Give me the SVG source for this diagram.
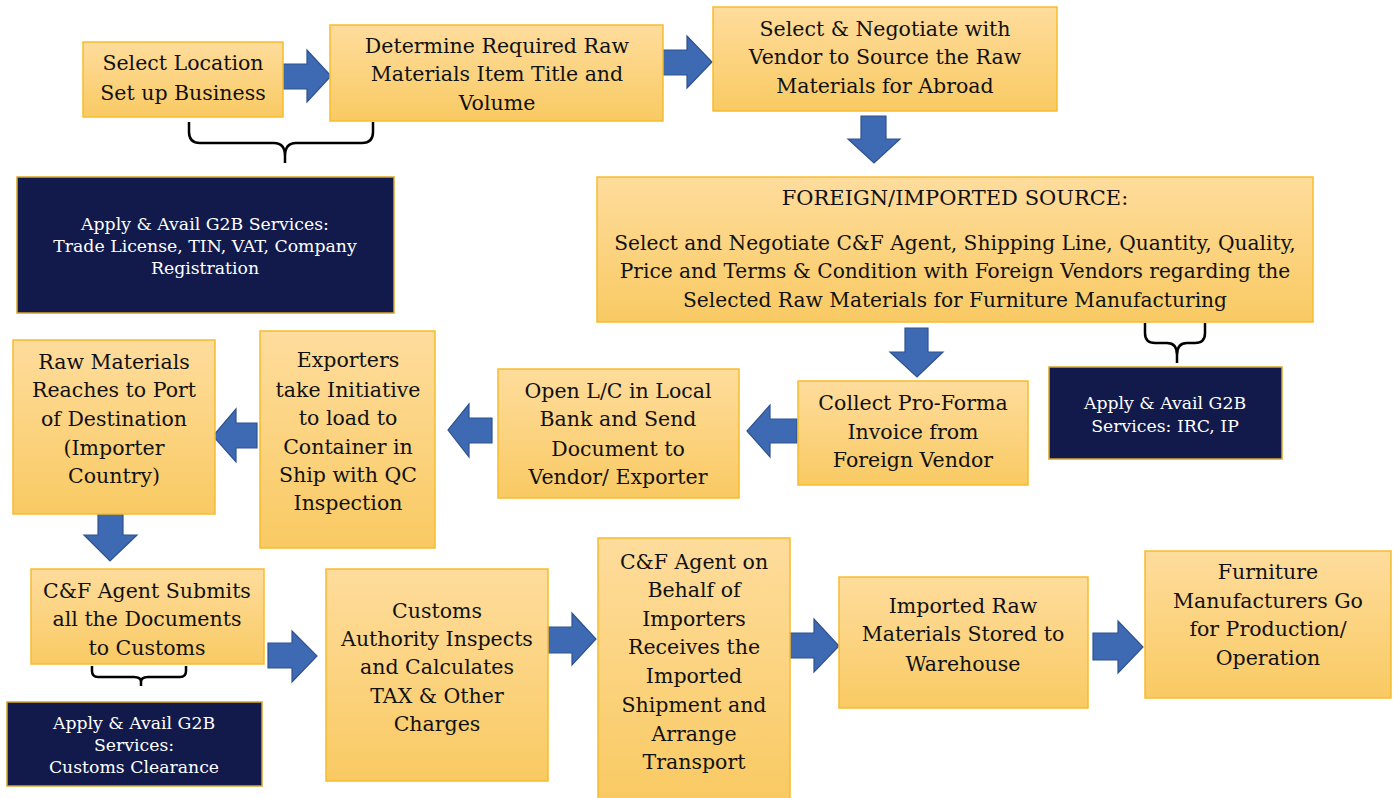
<svg xmlns="http://www.w3.org/2000/svg" width="1399" height="798" viewBox="0 0 1399 798">
<defs>
<linearGradient id="g" x1="0" y1="0" x2="0" y2="1">
<stop offset="0" stop-color="#FEDC9C"/>
<stop offset="1" stop-color="#F9CA63"/>
</linearGradient>
</defs>
<style>
.box{fill:url(#g);stroke:#F6BC2C;stroke-width:1.5}
.dark{fill:#111A4B;stroke:#D8A52A;stroke-width:1.5}
.t{font-family:"DejaVu Serif","Liberation Serif",serif;font-size:20.5px;fill:#111;text-anchor:middle;dominant-baseline:central}
.h{font-size:21px}
.f{font-size:20.2px}
.w{font-family:"DejaVu Serif","Liberation Serif",serif;font-size:17.3px;fill:#fff;text-anchor:middle;dominant-baseline:central}
.arr{fill:#3D6AB3;stroke:#2F528F;stroke-width:1.2}
.brace{fill:none;stroke:#000;stroke-width:2.5}
</style>
<rect width="1399" height="798" fill="#fff"/>

<g id="connectors">
<path class="arr" d="M283,64 H307 V50 L331,76 L307,102 V89 H283 Z"/>
<path class="arr" d="M663,50 H687 V36 L712,62 L687,88 V75 H663 Z"/>
<path class="arr" d="M861,116 H886 V139 H900 L874,163 L848,139 H861 Z"/>
<path class="arr" d="M905,328 H928 V352 H943 L917,377 L890,352 H905 Z"/>
<path class="arr" d="M797,419 H770 V405 L747,431 L770,457 V443 H797 Z"/>
<path class="arr" d="M492,418 H469 V404 L448,430 L469,457 V443 H492 Z"/>
<path class="arr" d="M257,423 H236 V409 L213,436 L236,462 V448 H257 Z"/>
<path class="arr" d="M98,514 H123 V535 H137 L110,561 L84,535 H98 Z"/>
<path class="arr" d="M268,643 H292 V631 L317,656 L292,682 V668 H268 Z"/>
<path class="arr" d="M548,627 H572 V613 L596,639 L572,665 V653 H548 Z"/>
<path class="arr" d="M790,633 H814 V619 L839,646 L814,672 V658 H790 Z"/>
<path class="arr" d="M1093,633 H1118 V621 L1143,647 L1118,673 V660 H1093 Z"/>
<path class="brace" d="M189,122 V132 Q189,143 200,143 H274 Q285,143 285,156 V163 M285,156 Q285,143 296,143 H362 Q373,143 373,132 V122"/>
<path class="brace" d="M1145,323 V333 Q1145,343 1155,343 H1167 Q1177,343 1177,355 V363 M1177,355 Q1177,343 1187,343 H1195 Q1205,343 1205,333 V323"/>
<path class="brace" d="M92,666 V671 Q92,677 98,677 H134 Q141,677 141,682 V686 M141,682 Q141,677 148,677 H180 Q186,677 186,671 V666"/>
</g>

<g id="n1"><rect class="box" x="83" y="42" width="200" height="75"/>
<text class="t" x="183" y="63">Select Location</text><text class="t" x="183" y="93">Set up Business</text></g>

<g id="n2"><rect class="box" x="330" y="25" width="333" height="96"/>
<text class="t" x="497" y="46">Determine Required Raw</text><text class="t" x="497" y="74">Materials Item Title and</text><text class="t" x="497" y="103">Volume</text></g>

<g id="n3"><rect class="box" x="713" y="7" width="344" height="104"/>
<text class="t" x="885" y="29">Select &amp; Negotiate with</text><text class="t" x="885" y="57">Vendor to Source the Raw</text><text class="t" x="885" y="86">Materials for Abroad</text></g>

<g id="g2b1"><rect class="dark" x="17" y="177" width="377" height="136"/>
<text class="w" x="205" y="224">Apply &amp; Avail G2B Services:</text><text class="w" x="205" y="246">Trade License, TIN, VAT, Company</text><text class="w" x="205" y="268">Registration</text></g>

<g id="n4"><rect class="box" x="597" y="177" width="716" height="145"/>
<text class="t h" x="955" y="198">FOREIGN/IMPORTED SOURCE:</text>
<text class="t f" x="955" y="243">Select and Negotiate C&amp;F Agent, Shipping Line, Quantity, Quality,</text>
<text class="t f" x="955" y="271">Price and Terms &amp; Condition with Foreign Vendors regarding the</text>
<text class="t f" x="955" y="300">Selected Raw Materials for Furniture Manufacturing</text></g>

<g id="g2b2"><rect class="dark" x="1049" y="367" width="233" height="92"/>
<text class="w" x="1165" y="403">Apply &amp; Avail G2B</text><text class="w" x="1165" y="426">Services: IRC, IP</text></g>

<g id="n5"><rect class="box" x="798" y="381" width="230" height="104"/>
<text class="t" x="913" y="403">Collect Pro-Forma</text><text class="t" x="913" y="432">Invoice from</text><text class="t" x="913" y="460">Foreign Vendor</text></g>

<g id="n6"><rect class="box" x="498" y="369" width="241" height="129"/>
<text class="t" x="618" y="391">Open L/C in Local</text><text class="t" x="618" y="419">Bank and Send</text><text class="t" x="618" y="449">Document to</text><text class="t" x="618" y="477">Vendor/ Exporter</text></g>

<g id="n7"><rect class="box" x="260" y="331" width="175" height="217"/>
<text class="t" x="348" y="360">Exporters</text><text class="t" x="348" y="390">take Initiative</text><text class="t" x="348" y="418">to load to</text><text class="t" x="348" y="447">Container in</text><text class="t" x="348" y="475">Ship with QC</text><text class="t" x="348" y="503">Inspection</text></g>

<g id="n8"><rect class="box" x="13" y="340" width="202" height="174"/>
<text class="t" x="114" y="362">Raw Materials</text><text class="t" x="114" y="390">Reaches to Port</text><text class="t" x="114" y="419">of Destination</text><text class="t" x="114" y="448">(Importer</text><text class="t" x="114" y="476">Country)</text></g>

<g id="n9"><rect class="box" x="31" y="569" width="233" height="95"/>
<text class="t" x="147" y="591">C&amp;F Agent Submits</text><text class="t" x="147" y="619">all the Documents</text><text class="t" x="147" y="648">to Customs</text></g>

<g id="g2b3"><rect class="dark" x="7" y="702" width="255" height="84"/>
<text class="w" x="134" y="723">Apply &amp; Avail G2B</text><text class="w" x="134" y="745">Services:</text><text class="w" x="134" y="767">Customs Clearance</text></g>

<g id="n10"><rect class="box" x="326" y="569" width="222" height="212"/>
<text class="t" x="437" y="611">Customs</text><text class="t" x="437" y="639">Authority Inspects</text><text class="t" x="437" y="667">and Calculates</text><text class="t" x="437" y="696">TAX &amp; Other</text><text class="t" x="437" y="724">Charges</text></g>

<g id="n11"><rect class="box" x="598" y="538" width="192" height="262"/>
<text class="t" x="694" y="562">C&amp;F Agent on</text><text class="t" x="694" y="590">Behalf of</text><text class="t" x="694" y="619">Importers</text><text class="t" x="694" y="647">Receives the</text><text class="t" x="694" y="676">Imported</text><text class="t" x="694" y="705">Shipment and</text><text class="t" x="694" y="734">Arrange</text><text class="t" x="694" y="762">Transport</text></g>

<g id="n12"><rect class="box" x="839" y="577" width="249" height="131"/>
<text class="t" x="963" y="606">Imported Raw</text><text class="t" x="963" y="634">Materials Stored to</text><text class="t" x="963" y="664">Warehouse</text></g>

<g id="n13"><rect class="box" x="1145" y="551" width="246" height="147"/>
<text class="t" x="1268" y="572">Furniture</text><text class="t" x="1268" y="601">Manufacturers Go</text><text class="t" x="1268" y="629">for Production/</text><text class="t" x="1268" y="658">Operation</text></g>
</svg>
